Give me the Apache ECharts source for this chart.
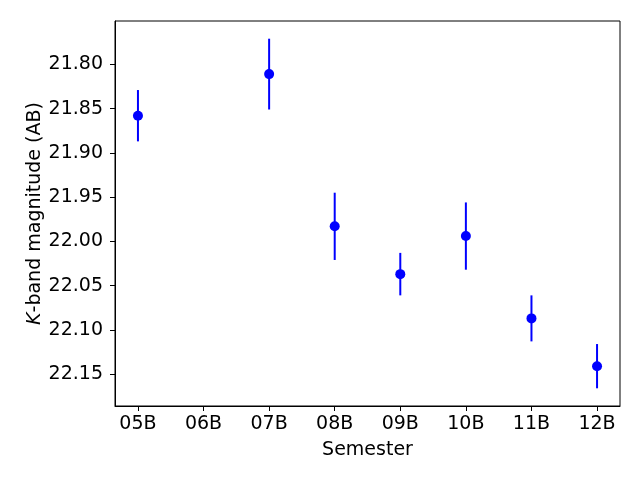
<!DOCTYPE html>
<html>
<head>
<meta charset="utf-8">
<script src="https://cdn.jsdelivr.net/npm/echarts@6/dist/echarts.min.js"></script>
<style>
  html, body { margin: 0; padding: 0; background: #fff; }
  #chart { width: 640px; height: 480px; }
</style>
</head>
<body>
<div id="chart"></div>
<script>
// semesters on the x axis
const semesters = ['05B', '06B', '07B', '08B', '09B', '10B', '11B', '12B']
// index of the semester for each measurement (06B has none)
const pointIdx = [0, 2, 3, 4, 5, 6, 7]
const kMag = [21.858, 21.811, 21.983, 22.037, 21.994, 22.087, 22.141]
const kErr = [0.029, 0.040, 0.038, 0.024, 0.038, 0.026, 0.025]
const yTicks = [21.80, 21.85, 21.90, 21.95, 22.00, 22.05, 22.10, 22.15]

const font = 'DejaVu Sans'
const fs = 19
const pts = pointIdx.map((x, i) => [x, kMag[i], kErr[i]])

const chart = echarts.init(document.getElementById('chart'))
chart.setOption({
  animation: false,
  textStyle: { fontFamily: font },
  grid: {
    left: 115, right: 20, top: 21, bottom: 74,
    show: true, borderColor: '#000', borderWidth: 1
  },
  xAxis: {
    type: 'value',
    min: -0.35,
    max: 7.35,
    name: 'Semester',
    nameLocation: 'middle',
    nameGap: 35,
    nameTextStyle: { fontSize: fs, color: '#000', fontFamily: font },
    axisLine: { show: true, onZero: false, lineStyle: { color: '#000', width: 1 } },
    axisTick: { show: true, length: 5, lineStyle: { color: '#000' }, customValues: semesters.map((s, i) => i) },
    axisLabel: {
      fontSize: fs, color: '#000', margin: 9,
      customValues: semesters.map((s, i) => i),
      formatter: v => semesters[Math.round(v)]
    },
    splitLine: { show: false }
  },
  yAxis: {
    type: 'value',
    inverse: true,
    min: 21.751,
    max: 22.186,
    name: '{i|K}-band magnitude (AB)',
    nameLocation: 'middle',
    nameRotate: 90,
    nameGap: 70,
    nameMoveOverlap: false,
    nameTextStyle: {
      fontSize: fs, color: '#000', fontFamily: font,
      rich: { i: { fontStyle: 'italic', fontSize: fs, fontFamily: font, color: '#000' } }
    },
    axisLine: { show: true, onZero: false, lineStyle: { color: '#000', width: 1 } },
    axisTick: { show: true, length: 5, lineStyle: { color: '#000' }, customValues: yTicks },
    axisLabel: {
      fontSize: fs, color: '#000', margin: 12,
      customValues: yTicks,
      formatter: v => v.toFixed(2)
    },
    splitLine: { show: false }
  },
  series: [
    {
      type: 'custom',
      data: pts,
      encode: { x: 0, y: 1 },
      renderItem: (params, api) => {
        const x = api.value(0)
        const y = api.value(1)
        const e = api.value(2)
        const top = api.coord([x, y - e])
        const bot = api.coord([x, y + e])
        return {
          type: 'line',
          shape: { x1: top[0], y1: top[1], x2: bot[0], y2: bot[1] },
          style: { stroke: '#0000ff', lineWidth: 2 }
        }
      },
      z: 2
    },
    {
      type: 'scatter',
      data: pts,
      symbol: 'circle',
      symbolSize: 10,
      itemStyle: { color: '#0000ff', opacity: 1 },
      z: 3
    }
  ]
})
</script>
</body>
</html>
